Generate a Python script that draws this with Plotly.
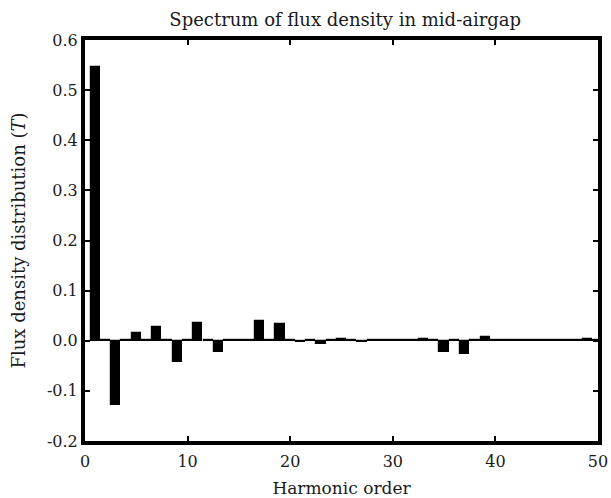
import plotly.graph_objects as go

# Harmonic spectrum of the mid-airgap flux density (tesla)
harmonics = list(range(1, 51))
flux = [
    0.547, 0.002, -0.128, 0.002, 0.016, 0.002, 0.027, 0.002, -0.042, 0.002,
    0.035, 0.002, -0.023, 0.002, 0.002, 0.002, 0.040, 0.002, 0.033, 0.002,
    -0.002, 0.002, -0.006, 0.002, 0.004, 0.002, -0.003, 0.002, 0.002, 0.002,
    0.002, 0.002, 0.003, 0.002, -0.023, 0.002, -0.027, 0.002, 0.008, 0.002,
    0.002, 0.002, 0.002, 0.002, 0.002, 0.002, 0.002, 0.002, 0.003, 0.002,
]
x_ticks = [0, 10, 20, 30, 40, 50]
y_ticks = [-0.2, -0.1, 0.0, 0.1, 0.2, 0.3, 0.4, 0.5, 0.6]
y_tick_text = ["-0.2", "-0.1", "0.0", "0.1", "0.2", "0.3", "0.4", "0.5", "0.6"]

serif = "DejaVu Serif, Liberation Serif, serif"
ink = "#1a1a1a"

fig = go.Figure(
    go.Bar(
        x=harmonics,
        y=flux,
        width=0.9,
        marker=dict(color="black", line=dict(color="black", width=1.2)),
    )
)

axis_common = dict(
    showgrid=False,
    zeroline=False,
    showline=True,
    linecolor="black",
    linewidth=4,
    mirror="allticks",
    ticks="inside",
    ticklen=5,
    tickwidth=2,
    tickcolor="black",
    automargin=False,
    tickfont=dict(family=serif, size=16, color=ink),
)

fig.update_layout(
    width=611,
    height=498,
    margin=dict(l=85, r=13, t=40, b=57),
    paper_bgcolor="white",
    plot_bgcolor="white",
    showlegend=False,
    bargap=0,
    title=dict(
        text="Spectrum of flux density in mid-airgap",
        font=dict(family=serif, size=18, color=ink),
        x=0.565,
        xanchor="center",
        y=0.96,
        yanchor="middle",
    ),
    xaxis=dict(
        axis_common,
        range=[0, 50],
        tickvals=x_ticks,
        ticklabelstandoff=3,
        title=dict(text="Harmonic order", font=dict(family=serif, size=17, color=ink), standoff=18),
    ),
    yaxis=dict(
        axis_common,
        range=[-0.2, 0.6],
        tickvals=y_ticks,
        ticktext=y_tick_text,
        title=dict(
            text="Flux density distribution (<i>T</i>)",
            font=dict(family=serif, size=18, color=ink),
            standoff=18,
        ),
    ),
)

fig.write_html("out.html")
